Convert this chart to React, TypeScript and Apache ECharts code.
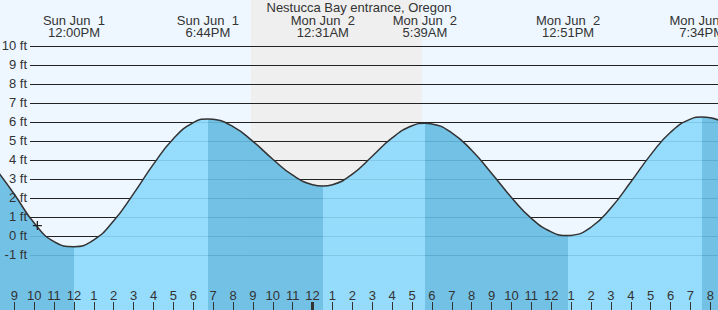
import React, { useEffect, useRef } from "react";
import * as echarts from "echarts";

const TITLE = "Nestucca Bay entrance, Oregon";

// hours counted from Sun Jun 1, 00:00
const tideHours = [8, 9, 10, 11, 12, 13, 14, 15, 16, 17, 18, 18.733, 19, 20, 21, 22, 23, 24, 24.517, 25, 26, 27, 28, 29, 29.65, 30, 31, 32, 33, 34, 35, 36, 36.85, 37, 38, 39, 40, 41, 42, 43, 43.567, 44, 45];
const tideFeet = [3.62, 2.2, 0.68, -0.3, -0.56, -0.2, 0.8, 2.23, 3.78, 5.12, 5.97, 6.16, 6.14, 5.76, 4.98, 4.04, 3.2, 2.7, 2.63, 2.7, 3.26, 4.2, 5.16, 5.8, 5.93, 5.9, 5.43, 4.51, 3.3, 2.03, 0.93, 0.22, 0.02, 0.03, 0.46, 1.47, 2.84, 4.27, 5.46, 6.15, 6.26, 6.22, 5.81];

const extremeDays = ["Sun Jun  1", "Sun Jun  1", "Mon Jun  2", "Mon Jun  2", "Mon Jun  2", "Mon Jun  2"];
const extremeClock = ["12:00PM", "6:44PM", "12:31AM", "5:39AM", "12:51PM", "7:34PM"];
const extremeKind = ["low", "high", "low", "high", "low", "high"];
const dayStartHour: Record<string, number> = { "Sun Jun  1": 0, "Mon Jun  2": 24 };

const hourTicks = [9, 10, 11, 12, 13, 14, 15, 16, 17, 18, 19, 20, 21, 22, 23, 24, 25, 26, 27, 28, 29, 30, 31, 32, 33, 34, 35, 36, 37, 38, 39, 40, 41, 42, 43, 44];
const midnightTicks = [24];
const footLevels = [-1, 0, 1, 2, 3, 4, 5, 6, 7, 8, 9, 10];
const nightSpan = [20.9, 29.5];
const nowMarker = [10.16, 0.55];
const viewHours = [8.281, 44.387];
const viewFeet = [-3.895, 12.421];

const FONT = "Liberation Sans, Arial, sans-serif";
const TEXT = "#333";
const DAY_BG = "#eef7ff";
const NIGHT_BG = "#efefef";
const RISING = "#8cd9fc";
const FALLING = "#65bce3";

function parseClock(s: string): number {
  const m = s.match(/(\d+):(\d+)(AM|PM)/);
  if (!m) return 0;
  const h = (parseInt(m[1], 10) % 12) + (m[3] === "PM" ? 12 : 0);
  return h + parseInt(m[2], 10) / 60;
}

const extremeHours = extremeClock.map((c, i) => dayStartHour[extremeDays[i]] + parseClock(c));

export default function App() {
  const ref = useRef<HTMLDivElement>(null);
  useEffect(() => {
    if (!ref.current) return;
    const chart = echarts.init(ref.current, undefined, { renderer: "svg" });
    const data = tideHours.map((t, i) => [t, tideFeet[i]]);

    const pieces: any[] = [];
    extremeHours.forEach((t, i) => {
      const color = extremeKind[i] === "low" ? FALLING : RISING;
      if (i === 0) pieces.push({ lt: t, color });
      else pieces.push({ gte: extremeHours[i - 1], lt: t, color });
    });
    const last = extremeHours.length - 1;
    pieces.push({ gte: extremeHours[last], color: extremeKind[last] === "low" ? RISING : FALLING });

    const topLabel = (v: number) => {
      const i = extremeHours.findIndex((t) => Math.abs(t - v) < 1e-6);
      return i < 0 ? "" : `${extremeDays[i]}\n${extremeClock[i]}`;
    };

    chart.setOption({
      animation: false,
      backgroundColor: DAY_BG,
      textStyle: { fontFamily: FONT },
      title: {
        text: TITLE,
        left: "center",
        top: 0,
        padding: 0,
        textStyle: { fontSize: 13, fontWeight: "normal", color: TEXT, fontFamily: FONT, lineHeight: 14 },
      },
      grid: [
        { left: 0, right: 0, top: 0, bottom: 0, containLabel: false, outerBoundsMode: "none" },
        { left: 30, right: 0, top: 0, bottom: 0, containLabel: false, outerBoundsMode: "none" },
      ],
      xAxis: [
        {
          type: "value", gridIndex: 0, min: viewHours[0], max: viewHours[1], position: "bottom", z: 10,
          axisLine: { show: false, onZero: false }, splitLine: { show: false },
          axisTick: { show: true, inside: true, length: 8, customValues: hourTicks, lineStyle: { color: TEXT, width: 1 } },
          axisLabel: {
            show: true, inside: true, margin: 7, customValues: hourTicks,
            formatter: (v: number) => String(Math.round(v) % 12 || 12),
            fontSize: 13, lineHeight: 15, color: TEXT, fontFamily: FONT,
          },
        },
        {
          type: "value", gridIndex: 0, min: viewHours[0], max: viewHours[1], position: "bottom", z: 11,
          axisLine: { show: false, onZero: false }, splitLine: { show: false }, axisLabel: { show: false },
          axisTick: { show: true, inside: true, length: 8, customValues: midnightTicks, lineStyle: { color: TEXT, width: 3 } },
        },
        {
          type: "value", gridIndex: 0, min: viewHours[0], max: viewHours[1], position: "top", z: 10,
          axisLine: { show: false, onZero: false }, axisTick: { show: false }, splitLine: { show: false },
          axisLabel: {
            show: true, inside: true, margin: 14, customValues: extremeHours, formatter: topLabel,
            fontSize: 13, lineHeight: 12, color: TEXT, fontFamily: FONT,
          },
        },
        { type: "value", gridIndex: 1, min: 0, max: 1, show: false, axisLine: { onZero: false } },
      ],
      yAxis: [
        { type: "value", gridIndex: 0, min: viewFeet[0], max: viewFeet[1], show: false, axisLine: { onZero: false } },
        {
          type: "value", gridIndex: 1, min: viewFeet[0], max: viewFeet[1], position: "left", z: 1.5,
          axisLine: { show: false, onZero: false },
          axisTick: { show: false, customValues: footLevels },
          axisLabel: { show: false, customValues: footLevels },
          splitLine: { show: true, lineStyle: { color: "#222", width: 1 } },
        },
        {
          type: "value", gridIndex: 1, min: viewFeet[0], max: viewFeet[1], position: "left", z: 10,
          axisLine: { show: false, onZero: false },
          axisTick: { show: false, customValues: footLevels },
          splitLine: { show: false },
          axisLabel: { show: true, customValues: footLevels, margin: 3, formatter: (v: number) => `${v} ft`, fontSize: 13, color: TEXT, fontFamily: FONT },
        },
      ],
      visualMap: { type: "piecewise", show: false, dimension: 0, seriesIndex: 1, pieces },
      series: [
        {
          type: "line", name: "night", xAxisIndex: 0, yAxisIndex: 0, z: -1,
          data: [[viewHours[0], 0]], symbol: "none", lineStyle: { opacity: 0 },
          markArea: { silent: true, z: 0.5, itemStyle: { color: NIGHT_BG, opacity: 1 }, data: [[{ xAxis: nightSpan[0] }, { xAxis: nightSpan[1] }]] },
        },
        {
          type: "line", name: "water", xAxisIndex: 0, yAxisIndex: 0, z: 2,
          data, smooth: true, symbol: "none", showSymbol: false,
          lineStyle: { width: 0 }, areaStyle: { opacity: 0.9, origin: "start" },
        },
        {
          type: "line", name: "tide", xAxisIndex: 0, yAxisIndex: 0, z: 3,
          data, smooth: true, symbol: "none", showSymbol: false,
          lineStyle: { color: "#333", width: 1.5 },
        },
        {
          type: "scatter", name: "now", xAxisIndex: 0, yAxisIndex: 0, z: 4,
          data: [nowMarker], symbol: "path://M0,5L10,5M5,0L5,10", symbolSize: 9,
          itemStyle: { color: "none", borderColor: "#222", borderWidth: 1.3, opacity: 1 },
        },
      ],
    });
    return () => chart.dispose();
  }, []);
  return <div ref={ref} style={{ position: "fixed", left: 0, top: 0, width: 718, height: 310 }} />;
}
